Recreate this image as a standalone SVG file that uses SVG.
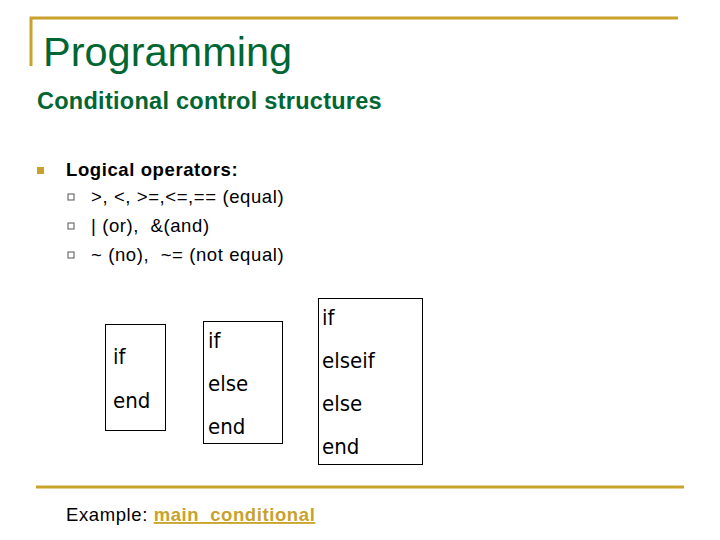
<svg xmlns="http://www.w3.org/2000/svg" width="720" height="540" viewBox="0 0 720 540" xml:space="preserve">
<style>
.g{fill:#006633;font-family:"Liberation Sans",Arial,sans-serif}
.b{font-family:"Liberation Sans",Arial,sans-serif;font-size:18.5px;fill:#000;white-space:pre;letter-spacing:0.6px}
.k{font-family:"DejaVu Sans Condensed","DejaVu Sans",sans-serif;font-size:22px;fill:#000}
.box{fill:#fff;stroke:#000;stroke-width:1}
.sq{fill:#fff;stroke:#555;stroke-width:1}
</style>
<rect width="720" height="540" fill="#fff"/>
<g id="frame" stroke="#C9A22B" stroke-width="3" fill="none">
<path d="M31,66 V18 H678"/>
<line x1="36" y1="487" x2="684" y2="487"/>
</g>
<text class="g" x="43" y="66" font-size="41.5">Programming</text>
<text class="g" x="37" y="109" font-size="23.5" font-weight="bold" letter-spacing="0.27">Conditional control structures</text>
<rect x="37" y="167" width="7" height="7" fill="#C9A22B"/>
<text class="b" x="66" y="176" font-weight="bold" font-size="21" letter-spacing="0.5">Logical operators:</text>
<rect x="68" y="194" width="6" height="6" class="sq"/>
<text class="b" x="91" y="203">&gt;, &lt;, &gt;=,&lt;=,== (equal)</text>
<rect x="68" y="223" width="6" height="6" class="sq"/>
<text class="b" x="91" y="232">| (or),  &amp;(and)</text>
<rect x="68" y="252" width="6" height="6" class="sq"/>
<text class="b" x="91" y="261">~ (no),  ~= (not equal)</text>
<g id="n1"><rect class="box" x="105.5" y="324.5" width="60" height="106"/>
<text class="k" x="113" y="364">if</text><text class="k" x="113" y="408">end</text></g>
<g id="n2"><rect class="box" x="203.5" y="321.5" width="79" height="122"/>
<text class="k" x="208" y="348">if</text><text class="k" x="208" y="391">else</text><text class="k" x="208" y="434">end</text></g>
<g id="n3"><rect class="box" x="318.5" y="298.5" width="104" height="166"/>
<text class="k" x="322" y="325">if</text><text class="k" x="322" y="368">elseif</text><text class="k" x="322" y="411">else</text><text class="k" x="322" y="454">end</text></g>
<g id="connectors"/>
<text class="b" x="66" y="521" font-size="19.5" letter-spacing="0.7">Example: <tspan fill="#C9A22B" font-weight="bold" text-decoration="underline">main_conditional</tspan></text>
</svg>
